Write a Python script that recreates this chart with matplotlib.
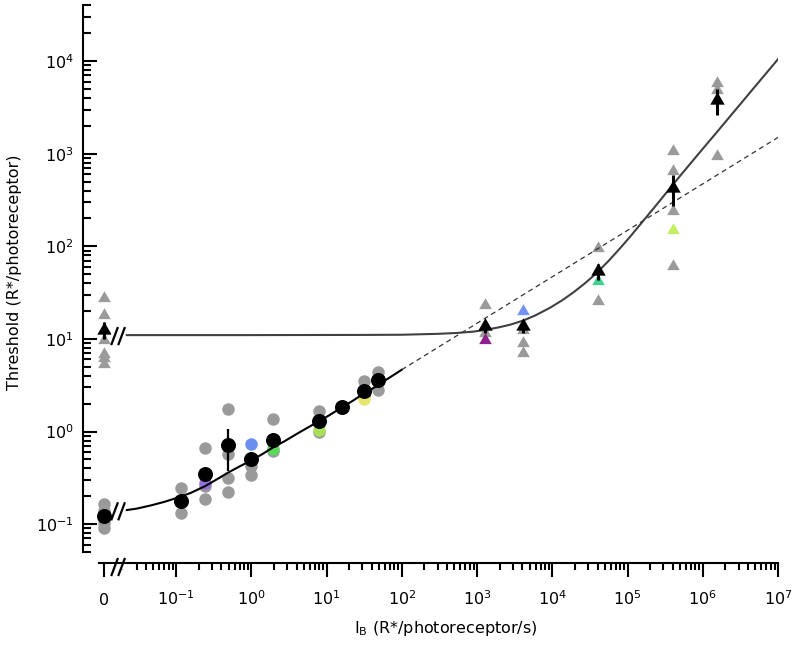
import numpy as np
import matplotlib
matplotlib.use("Agg")
import matplotlib.pyplot as plt
from matplotlib.path import Path
from matplotlib.transforms import IdentityTransform
from matplotlib.ticker import FixedLocator, FixedFormatter, NullFormatter

# ---------------- data ----------------
ZERO_POS = 10 ** -1.957          # where I_B = 0 is drawn on the log axis

# rod (circle) data
rod_mean_x = [0, 0.117, 0.243, 0.486, 1.0, 1.96, 7.94, 15.9, 31.5, 48.9]
rod_mean_y = [0.122, 0.177, 0.352, 0.718, 0.507, 0.82, 1.29, 1.85, 2.72, 3.64]
rod_mean_err = [0, 0, 0.04, 0.34, 0, 0.06, 0, 0, 0, 0]

rod_ind_x = [0, 0, 0, 0, 0.117, 0.117, 0.243, 0.243, 0.243,
             0.486, 0.486, 0.486, 0.486, 1.0, 1.0, 1.96, 1.96,
             7.94, 7.94, 31.5, 31.5, 48.9, 48.9]
rod_ind_y = [0.163, 0.138, 0.104, 0.091, 0.245, 0.132, 0.667, 0.257, 0.188,
             1.73, 0.565, 0.316, 0.221, 0.422, 0.343, 1.37, 0.62,
             1.66, 0.98, 3.49, 2.4, 4.37, 2.84]

rod_col_x = [0.243, 1.0, 1.96, 7.94, 31.5]
rod_col_y = [0.279, 0.74, 0.64, 1.05, 2.25]
rod_col_c = ["#9370db", "#6b8ff0", "#5cd65c", "#a9e05a", "#e6e66e"]

# cone (triangle) data
cone_mean_x = [0, 1277, 4050, 40200, 406000, 1.56e6]
cone_mean_y = [12.6, 13.7, 13.7, 53.8, 428, 3845]
cone_mean_err = [2.5, 2.0, 2.0, 10, 155, 1200]

cone_ind_x = [0, 0, 0, 0, 0, 0, 1277, 1277, 4050, 4050, 4050,
              40200, 40200, 406000, 406000, 406000, 406000,
              1.56e6, 1.56e6, 1.56e6]
cone_ind_y = [27.8, 18.3, 9.85, 6.8, 6.3, 5.3, 23.5, 11.6, 9.1, 7.08, 12.5,
              96.4, 25.5, 1064, 647, 239, 61,
              5825, 4930, 940]

cone_col_x = [1277, 4050, 40200, 406000]
cone_col_y = [9.85, 19.9, 42, 152]
cone_col_c = ["#8e1f8e", "#7393f2", "#3fd18f", "#c2ee62"]

# fitted curves
rod_fit_x = [0.021, 0.03, 0.0475, 0.07, 0.116, 0.158, 0.243, 0.35, 0.486,
             0.7, 1.0, 1.4, 1.96, 2.8, 4.0, 5.6, 7.94, 11.2, 15.9, 22.4,
             31.5, 45, 63, 100]
rod_fit_y = [0.141, 0.147, 0.160, 0.174, 0.198, 0.218, 0.257, 0.305, 0.358,
             0.42, 0.487, 0.57, 0.675, 0.79, 0.94, 1.1, 1.29, 1.52, 1.82, 2.15,
             2.58, 3.05, 3.65, 4.65]

weber_x = [100, 1e7]
weber_y = [4.65, 1500]

cone_fit_x = [0.019, 1, 30, 100, 300, 537, 900, 1277, 2000, 2800, 4120,
              6000, 9330, 13500, 19000, 27000, 37000, 55000, 79400, 110000,
              146600, 250000, 406000, 700000, 1.0e6, 1.53e6, 3e6, 5e6, 1e7]
cone_fit_y = [11.0, 11.0, 11.05, 11.1, 11.35, 11.6, 12.0, 12.5, 13.4, 14.3,
              15.8, 18.0, 21.7, 26.1, 31.7, 39.7, 49.6, 68.5, 95.0, 129.0,
              171.0, 289.0, 470.0, 800.0, 1130.0, 1700.0, 3270.0, 5370.0,
              10500.0]

x_ticks = [ZERO_POS] + [10.0 ** k for k in range(-1, 8)]
x_ticklabels = ["0"] + [r"$10^{%d}$" % k for k in range(-1, 8)]
y_ticks = [10.0 ** k for k in range(-1, 5)]
y_ticklabels = [r"$10^{%d}$" % k for k in range(-1, 5)]


def zx(v):
    return [ZERO_POS if a == 0 else a for a in v]


# ---------------- figure ----------------
W, H = 800, 646
fig = plt.figure(figsize=(W / 100, H / 100), dpi=100)
ax_l, ax_r, ax_b, ax_t = 83, 778, 552, 5.4
ax = fig.add_axes([ax_l / W, 1 - ax_b / H, (ax_r - ax_l) / W, (ax_b - ax_t) / H])
ax.set_xscale("log")
ax.set_yscale("log")
ax.set_xlim(10 ** -2.236, 1e7)
ax.set_ylim(0.05, 4e4)

GRAY = "#9a9a9a"
tri = Path([(-1, -0.577), (1, -0.577), (0, 1.155), (-1, -0.577)],
           [Path.MOVETO, Path.LINETO, Path.LINETO, Path.CLOSEPOLY])

# individual points
ax.plot(zx(rod_ind_x), rod_ind_y, "o", ms=9, color=GRAY, mec="none", zorder=2)
ax.plot(zx(cone_ind_x), cone_ind_y, marker=tri, ls="none", ms=10.5,
        color=GRAY, mec="none", zorder=2)
for x, y, c in zip(rod_col_x, rod_col_y, rod_col_c):
    ax.plot([x], [y], "o", ms=9, color=c, mec="none", zorder=3)
for x, y, c in zip(cone_col_x, cone_col_y, cone_col_c):
    ax.plot([x], [y], marker=tri, ls="none", ms=10.5, color=c, mec="none", zorder=3)

# curves
ax.plot(rod_fit_x, rod_fit_y, "-", color="black", lw=1.5, zorder=4,
        solid_joinstyle="round")
ax.plot(weber_x, weber_y, color="#333333", lw=0.9, ls=(0, (4, 3)), zorder=4)
ax.plot(cone_fit_x, cone_fit_y, "-", color="#404040", lw=1.5, zorder=4,
        solid_joinstyle="round")

# means
ax.errorbar(zx(rod_mean_x), rod_mean_y, yerr=rod_mean_err, fmt="o", ms=10.8,
            color="black", mec="none", ecolor="black", elinewidth=1.6,
            capsize=0, zorder=5)
ax.errorbar(zx(cone_mean_x), cone_mean_y, yerr=cone_mean_err, fmt="none",
            ecolor="black", elinewidth=2.2, capsize=0, zorder=5)
ax.plot(zx(cone_mean_x), cone_mean_y, marker=tri, ls="none", ms=12,
        color="black", mec="none", zorder=6)

# axes styling
for s in ("top", "right"):
    ax.spines[s].set_visible(False)
ax.spines["left"].set_linewidth(1.5)
ax.spines["bottom"].set_linewidth(1.5)
ax.spines["bottom"].set_position(("outward", 11 * 0.72))
ax.spines["bottom"].set_bounds(10 ** -2.02, 1e7)

ax.xaxis.set_major_locator(FixedLocator(x_ticks))
ax.xaxis.set_major_formatter(FixedFormatter(x_ticklabels))
xminor = [m * 10.0 ** d for d in range(-2, 7) for m in range(2, 10)]
ax.xaxis.set_minor_locator(FixedLocator(xminor))
ax.xaxis.set_minor_formatter(NullFormatter())
ax.yaxis.set_major_locator(FixedLocator(y_ticks))
ax.yaxis.set_major_formatter(FixedFormatter(y_ticklabels))
yminor = [m * 10.0 ** d for d in range(-2, 5) for m in range(2, 10)
          if 0.049 < m * 10.0 ** d < 4.1e4]
ax.yaxis.set_minor_locator(FixedLocator(yminor))
ax.yaxis.set_minor_formatter(NullFormatter())

ax.tick_params(axis="x", which="major", direction="out", length=10, width=1.5,
               labelsize=11.5, pad=20)
ax.tick_params(axis="x", which="minor", direction="out", length=5, width=1.5)
ax.tick_params(axis="y", which="major", direction="in", length=10, width=1.5,
               labelsize=11.5, pad=6.5)
ax.tick_params(axis="y", which="minor", direction="in", length=5.5, width=1.5)
for lab in ax.get_xticklabels():
    lab.set_verticalalignment("baseline")

fig.text(15 / W, 1 - 272 / H, "Threshold (R*/photoreceptor)", rotation=90,
         ha="center", va="center", fontsize=11.5)
fig.text(446 / W, 1 - 628 / H, r"I$_\mathregular{B}$ (R*/photoreceptor/s)",
         ha="center", va="center", fontsize=11.5)

# axis-break marks "//"
fig.canvas.draw()
idt = IdentityTransform()


def brk(px, py, gap=True):
    # px, py in image pixel coordinates (origin top-left)
    dy = H - py
    if gap:
        ax.add_line(plt.Line2D([px - 4.5, px + 4.5], [dy, dy], color="white",
                               lw=4, transform=idt, clip_on=False, zorder=9))
    for off in (-3.5, 3.5):
        ax.add_line(plt.Line2D([px + off - 3, px + off + 3], [dy - 8, dy + 8],
                               color="black", lw=1.6, transform=idt,
                               clip_on=False, zorder=10))


bx = ax.transData.transform((10 ** -1.77, 1))[0]
brk(bx, H - ax.transData.transform((1, rod_fit_y[0]))[1] + 1)
brk(bx, H - ax.transData.transform((1, cone_fit_y[0]))[1] + 1)
brk(bx, ax_b + 11 + 4)

fig.savefig("out.png", dpi=100, facecolor="white")
